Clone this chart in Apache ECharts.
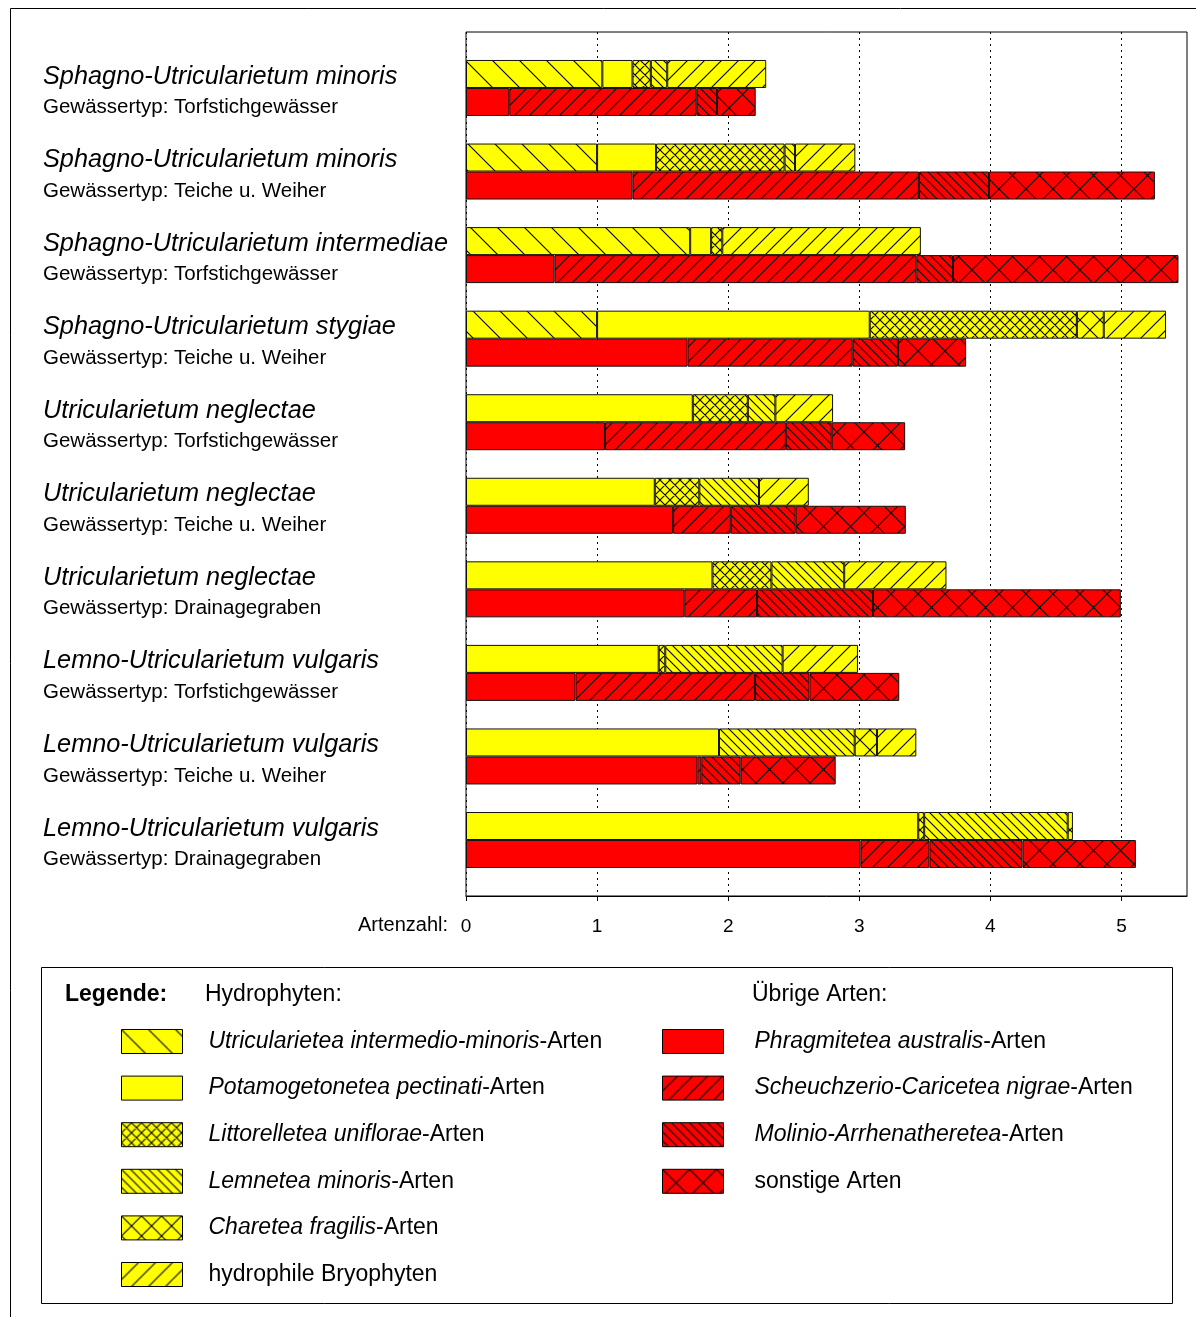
<!DOCTYPE html>
<html>
<head>
<meta charset="utf-8">
<script src="https://cdn.jsdelivr.net/npm/echarts@6/dist/echarts.min.js"></script>
<style>
  html, body { margin: 0; padding: 0; background: #fff; }
  #chart { width: 1196px; height: 1317px; }
</style>
</head>
<body>
<div id="chart"></div>
<script>
// Gesellschaften (Kategorien) und Gewässertyp
const titles = [
  'Sphagno-Utricularietum minoris',
  'Sphagno-Utricularietum minoris',
  'Sphagno-Utricularietum intermediae',
  'Sphagno-Utricularietum stygiae',
  'Utricularietum neglectae',
  'Utricularietum neglectae',
  'Utricularietum neglectae',
  'Lemno-Utricularietum vulgaris',
  'Lemno-Utricularietum vulgaris',
  'Lemno-Utricularietum vulgaris'
];
const types = [
  'Torfstichgewässer', 'Teiche u. Weiher', 'Torfstichgewässer', 'Teiche u. Weiher',
  'Torfstichgewässer', 'Teiche u. Weiher', 'Drainagegraben',
  'Torfstichgewässer', 'Teiche u. Weiher', 'Drainagegraben'
];

// Hydrophyten (Artenzahl)
const utric  = [1.04, 1.0, 1.71, 1.0, 0, 0, 0, 0, 0, 0];
const potam  = [0.23, 0.45, 0.16, 2.08, 1.73, 1.44, 1.88, 1.47, 1.93, 3.45];
const littor = [0.14, 0.98, 0.085, 1.58, 0.42, 0.34, 0.45, 0.05, 0, 0.045];
const lemna  = [0.125, 0.08, 0, 0, 0.21, 0.455, 0.555, 0.895, 1.035, 1.095];
const chara  = [0, 0, 0, 0.205, 0, 0, 0, 0, 0.17, 0.04];
const bryo   = [0.755, 0.46, 1.515, 0.475, 0.44, 0.38, 0.78, 0.575, 0.3, 0];

// Übrige Arten
const phrag  = [0.33, 1.27, 0.675, 1.69, 1.06, 1.58, 1.665, 0.835, 1.765, 3.01];
const scheu  = [1.43, 2.185, 2.76, 1.26, 1.38, 0.44, 0.555, 1.37, 0.03, 0.525];
const molin  = [0.155, 0.535, 0.28, 0.345, 0.35, 0.495, 0.885, 0.415, 0.30, 0.71];
const sonst  = [0.295, 1.265, 1.72, 0.52, 0.56, 0.84, 1.89, 0.685, 0.725, 0.865];

const xTicks = [0, 1, 2, 3, 4, 5];

const hydroNames = [
  'Utricularietea intermedio-minoris', 'Potamogetonetea pectinati', 'Littorelletea uniflorae',
  'Lemnetea minoris', 'Charetea fragilis', 'hydrophile Bryophyten'
];
const otherNames = [
  'Phragmitetea australis', 'Scheuchzerio-Caricetea nigrae', 'Molinio-Arrhenatheretea', 'sonstige Arten'
];
const plainNames = ['hydrophile Bryophyten', 'sonstige Arten'];

const FONT = '"Liberation Sans", Arial, sans-serif';
const YEL = '#ffff00';
const RED = '#ff0000';

// hatch pattern tile (45 degree lines through the corners so it tiles seamlessly)
function hatch(bg, size, dirs) {
  const c = document.createElement('canvas');
  c.width = size;
  c.height = size;
  const g = c.getContext('2d');
  g.fillStyle = bg;
  g.fillRect(0, 0, size, size);
  g.strokeStyle = '#000';
  g.lineWidth = 1.1;
  g.beginPath();
  for (const k of [-1, 0, 1]) {
    const o = k * size;
    if (dirs.indexOf('/') >= 0) { g.moveTo(o - 1, size + 1); g.lineTo(o + size + 1, -1); }
    if (dirs.indexOf('\\') >= 0) { g.moveTo(o - 1, -1); g.lineTo(o + size + 1, size + 1); }
  }
  g.stroke();
  return { image: c, repeat: 'repeat' };
}

const hydroFill = [
  hatch(YEL, 27, '\\'), YEL, hatch(YEL, 10, '/\\'), hatch(YEL, 9, '\\'), hatch(YEL, 20, '/\\'), hatch(YEL, 17, '/')
];
const otherFill = [RED, hatch(RED, 15, '/'), hatch(RED, 9, '\\'), hatch(RED, 27, '/\\')];

const hydroValues = [utric, potam, littor, lemna, chara, bryo];
const otherValues = [phrag, scheu, molin, sonst];

const nz = arr => arr.map(v => (v > 0 ? v : null));

function makeSeries(names, values, fills, stack) {
  return names.map((name, i) => ({
    name: name,
    type: 'bar',
    stack: stack,
    xAxisIndex: 1,
    yAxisIndex: 1,
    barWidth: 28,
    barGap: '0%',
    data: nz(values[i]),
    itemStyle: { color: fills[i], borderColor: '#111', borderWidth: 1 },
    emphasis: { disabled: true }
  }));
}

const chart = echarts.init(document.getElementById('chart'));

const legendText = {
  fontFamily: FONT, fontSize: 23, color: '#000', lineHeight: 24,
  rich: { i: { fontFamily: FONT, fontSize: 23, fontStyle: 'italic', color: '#000', lineHeight: 24 } }
};
const legendFmt = name => (plainNames.indexOf(name) >= 0 ? name : '{i|' + name + '}-Arten');

chart.setOption({
  animation: false,
  backgroundColor: '#fff',
  textStyle: { fontFamily: FONT },
  grid: [
    { left: 466, top: 32, width: 721, height: 864, show: true, borderColor: '#000', borderWidth: 1,
      backgroundColor: 'transparent', outerBoundsMode: 'none' },
    { left: 466, top: 46.2, width: 721, height: 835.6, outerBoundsMode: 'none' }
  ],
  xAxis: [
    {
      gridIndex: 0, type: 'value', min: 0, max: 5.5, interval: 1,
      axisLine: { show: true, lineStyle: { color: '#000', width: 1 } },
      axisTick: { show: true, inside: false, length: 5, customValues: xTicks, lineStyle: { color: '#000' } },
      axisLabel: { color: '#000', fontSize: 19, fontFamily: FONT, margin: 21, customValues: xTicks },
      splitLine: { show: true, lineStyle: { color: '#000', width: 1, type: [2, 4] } }
    },
    { gridIndex: 1, type: 'value', min: 0, max: 5.5, show: false }
  ],
  yAxis: [
    { gridIndex: 0, type: 'value', min: 0, max: 1, show: false },
    {
      gridIndex: 1, type: 'category', inverse: true,
      data: titles.map((t, i) => t + ' / ' + types[i]),
      axisLine: { show: false }, axisTick: { show: false }, splitLine: { show: false },
      axisLabel: {
        align: 'left', margin: 423, padding: [5, 0, 0, 0],
        formatter: (v, i) => '{t|' + titles[i] + '}\n{s|Gewässertyp: ' + types[i] + '}',
        rich: {
          t: { fontFamily: FONT, fontSize: 25.3, fontStyle: 'italic', color: '#000', lineHeight: 34 },
          s: { fontFamily: FONT, fontSize: 20.5, color: '#000', lineHeight: 28 }
        }
      }
    }
  ],
  legend: [
    { data: hydroNames, orient: 'vertical', left: 121, top: 1029, padding: 0,
      itemWidth: 61, itemHeight: 24, itemGap: 21.6, icon: 'rect', selectedMode: false,
      itemStyle: { borderColor: '#000', borderWidth: 1 },
      textStyle: Object.assign({ padding: [0, 0, 0, 21] }, legendText), formatter: legendFmt },
    { data: otherNames, orient: 'vertical', left: 662, top: 1029, padding: 0,
      itemWidth: 61, itemHeight: 24, itemGap: 21.6, icon: 'rect', selectedMode: false,
      itemStyle: { borderColor: '#000', borderWidth: 1 },
      textStyle: Object.assign({ padding: [0, 0, 0, 26] }, legendText), formatter: legendFmt }
  ],
  graphic: [
    { type: 'rect', shape: { x: 10.5, y: 8.5, width: 1210, height: 1330 },
      style: { fill: null, stroke: '#000', lineWidth: 1 }, silent: true },
    { type: 'rect', shape: { x: 41.5, y: 967.5, width: 1131, height: 336 },
      style: { fill: null, stroke: '#000', lineWidth: 1 }, silent: true },
    { type: 'text', left: 358, top: 915,
      style: { text: 'Artenzahl:', fontFamily: FONT, fontSize: 20, fill: '#000' } },
    { type: 'text', left: 65, top: 983,
      style: { text: 'Legende:', fontFamily: FONT, fontSize: 23, fontWeight: 'bold', fill: '#000' } },
    { type: 'text', left: 205, top: 983,
      style: { text: 'Hydrophyten:', fontFamily: FONT, fontSize: 23, fill: '#000' } },
    { type: 'text', left: 752, top: 983,
      style: { text: 'Übrige Arten:', fontFamily: FONT, fontSize: 23, fill: '#000' } }
  ],
  series: makeSeries(hydroNames, hydroValues, hydroFill, 'hydro')
    .concat(makeSeries(otherNames, otherValues, otherFill, 'other'))
});
</script>
</body>
</html>
